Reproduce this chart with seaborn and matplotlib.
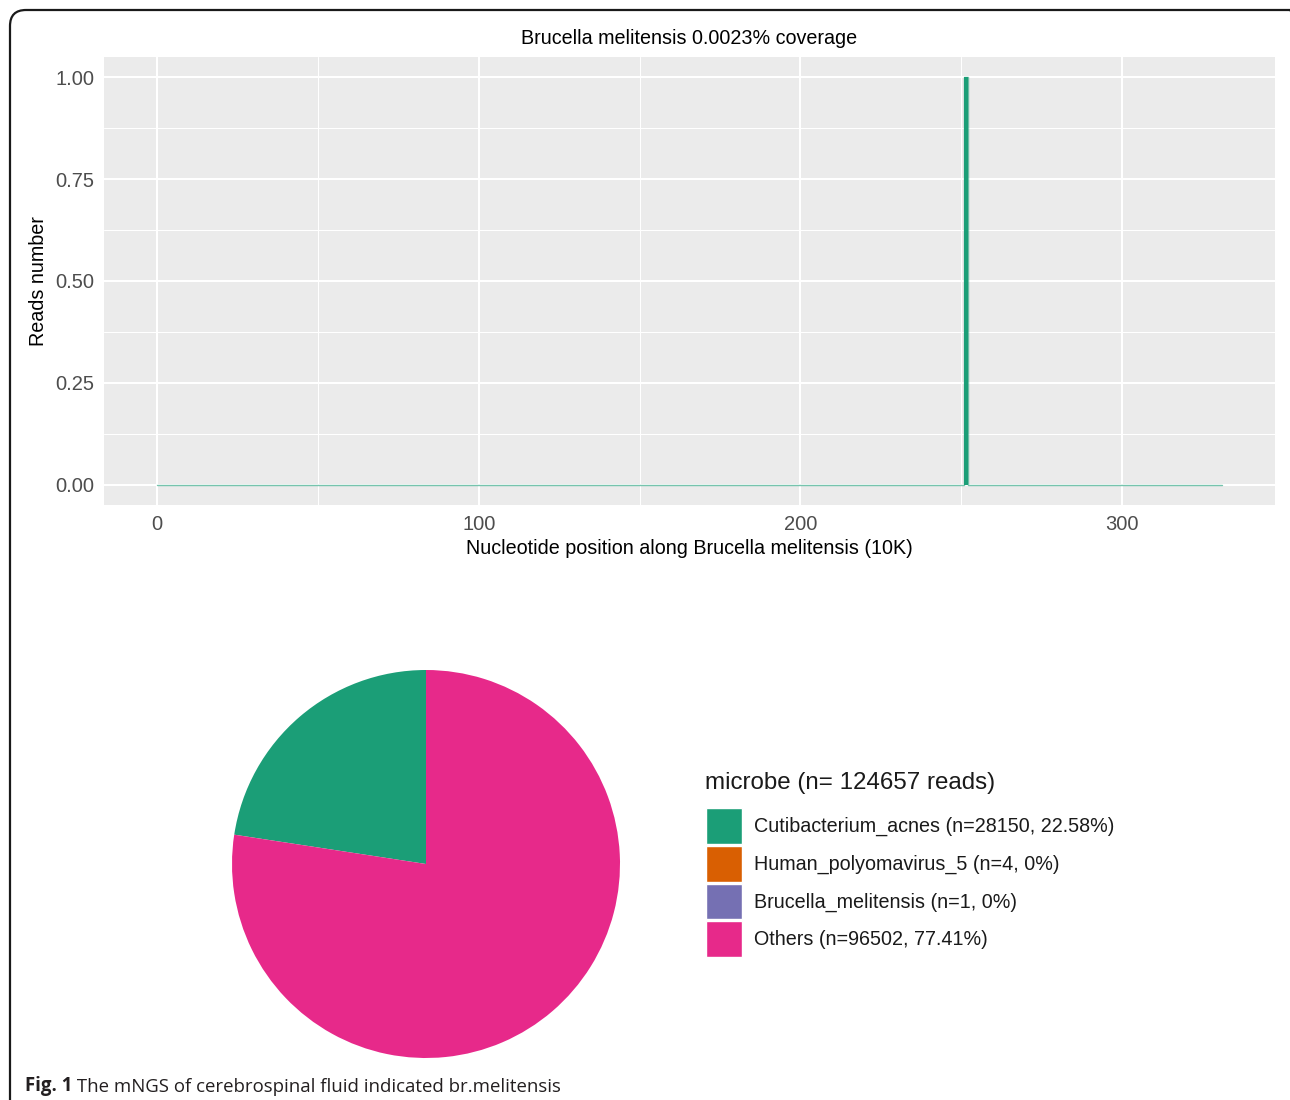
import numpy as np
import pandas as pd
import matplotlib
matplotlib.use("Agg")
import matplotlib.pyplot as plt
from matplotlib.patches import FancyBboxPatch
from matplotlib.ticker import MultipleLocator
import seaborn as sns

# Coverage along the genome (position in units of 10K nucleotides)
positions = [0, 251, 251, 252, 252, 331]
reads = [0, 0, 1, 1, 0, 0]
coverage_title = "Brucella melitensis 0.0023% coverage"
x_label = "Nucleotide position along Brucella melitensis (10K)"
y_label = "Reads number"
x_ticks = [0, 100, 200, 300]
y_ticks = [0.00, 0.25, 0.50, 0.75, 1.00]

# Read composition
microbes = ["Cutibacterium_acnes", "Human_polyomavirus_5", "Brucella_melitensis", "Others"]
counts = [28150, 4, 1, 96502]
total_reads = 124657
caption_bold = "Fig. 1"
caption_text = " The mNGS of cerebrospinal fluid indicated br.melitensis"

sns.set_theme(style="darkgrid")
plt.rcParams["font.family"] = ["Liberation Sans", "DejaVu Sans"]

W, H = 1290, 1100
fig = plt.figure(figsize=(W / 100, H / 100), dpi=100)
fig.patch.set_facecolor("white")

palette = sns.color_palette("Dark2", 4)
green = palette[0]

# ---- coverage panel ----
ax1 = fig.add_axes([104 / W, 1 - 505 / H, (1275 - 104) / W, (505 - 57) / H])
ax1.set_facecolor("#EBEBEB")
cov = pd.DataFrame({"position": positions, "reads": reads})
sns.lineplot(data=cov, x="position", y="reads", sort=False, estimator=None,
             color=green, linewidth=1.0, alpha=0.6, ax=ax1)
ax1.fill_between(cov["position"], 0, cov["reads"], color=green, linewidth=0)

xmin, xmax = min(positions), max(positions)
xr = xmax - xmin
ax1.set_xlim(xmin - 0.05 * xr, xmax + 0.05 * xr)
ax1.set_ylim(-0.05, 1.05)
ax1.set_xticks(x_ticks)
ax1.set_yticks(y_ticks)
ax1.set_yticklabels([f"{v:.2f}" for v in y_ticks])
ax1.xaxis.set_minor_locator(MultipleLocator(50))
ax1.yaxis.set_minor_locator(MultipleLocator(0.125))
ax1.grid(which="major", color="white", linewidth=1.5)
ax1.grid(which="minor", color="white", linewidth=0.75)
for s in ax1.spines.values():
    s.set_visible(False)
ax1.tick_params(axis="both", which="major", length=4, width=1.1, color="#333333",
                labelcolor="#4D4D4D", labelsize=14.5, pad=3)
ax1.tick_params(axis="both", which="minor", length=0)
ax1.set_xlabel(x_label, fontsize=14.2, color="black", labelpad=4)
ax1.set_ylabel(y_label, fontsize=14.2, color="black", labelpad=5)
ax1.set_title(coverage_title, fontsize=14.2, color="black", pad=9)

# ---- pie chart ----
cx, cy, r = 426, 864, 194
ax2 = fig.add_axes([(cx - r) / W, (H - cy - r) / H, 2 * r / W, 2 * r / H])
wedges, _ = ax2.pie(counts, colors=palette, startangle=90, counterclock=True,
                    wedgeprops=dict(linewidth=0))
ax2.set_xlim(-1, 1)
ax2.set_ylim(-1, 1)
ax2.set_aspect("equal")

labels = []
for name, n in zip(microbes, counts):
    pct = round(100 * n / total_reads, 2)
    labels.append(f"{name} (n={n}, {pct:g}%)")

fig.text(705 / W, 1 - 783 / H, f"microbe (n= {total_reads} reads)", fontsize=17.4,
         color="#1a1a1a", ha="left", va="center")

handles = [plt.Rectangle((0, 0), 1, 1, facecolor=c, edgecolor="white", linewidth=1)
           for c in palette]
leg = fig.legend(handles, labels, loc="upper left",
                 bbox_to_anchor=(706 / W, 1 - 808 / H),
                 frameon=False, fontsize=14.2,
                 handlelength=1.83, handleheight=2.43, handletextpad=0.6,
                 labelspacing=0.09, borderpad=0, borderaxespad=0)
for t in leg.get_texts():
    t.set_color("#1a1a1a")

# ---- caption ----
cap_font = ["Open Sans", "DejaVu Sans"]
t1 = fig.text(25 / W, 1 - 1096 / H, caption_bold, fontsize=13.45, weight="bold",
              family=cap_font, va="bottom", ha="left", color="#231F20")
ax2.annotate(caption_text, xy=(1, 0), xycoords=t1, va="bottom", ha="left",
             fontsize=13.45, family=cap_font, color="#231F20",
             annotation_clip=False)

# ---- rounded frame ----
frame = FancyBboxPatch((10, -40), 1296, 1090 + 40, boxstyle="round,pad=0,rounding_size=16",
                       transform=None, facecolor="none", edgecolor="#1a1a1a",
                       linewidth=1.6, zorder=10)
fig.patches.append(frame)

fig.savefig("out.png", dpi=100)
